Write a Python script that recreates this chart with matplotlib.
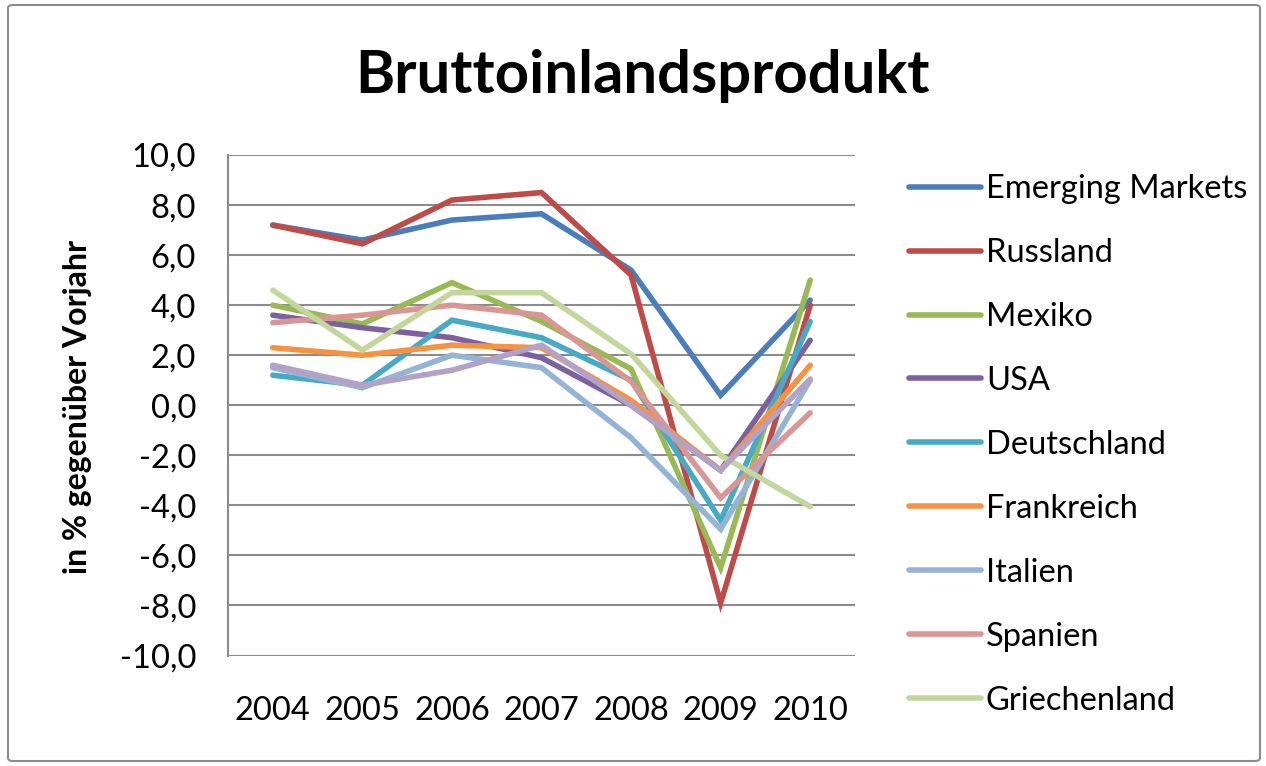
import matplotlib
matplotlib.use("Agg")
import matplotlib.pyplot as plt
from matplotlib.patches import FancyBboxPatch

years = ["2004", "2005", "2006", "2007", "2008", "2009", "2010"]

emerging_markets = [7.2, 6.6, 7.4, 7.65, 5.4, 0.4, 4.2]
russland = [7.2, 6.45, 8.2, 8.5, 5.2, -7.9, 4.0]
mexiko = [4.0, 3.25, 4.9, 3.35, 1.45, -6.5, 5.0]
usa = [3.6, 3.1, 2.7, 1.9, 0.0, -2.6, 2.6]
deutschland = [1.2, 0.8, 3.4, 2.7, 1.0, -4.6, 3.35]
frankreich = [2.3, 2.0, 2.4, 2.3, 0.2, -2.6, 1.6]
italien = [1.5, 0.7, 2.0, 1.5, -1.3, -4.95, 1.0]
spanien = [3.3, 3.6, 4.0, 3.6, 0.95, -3.7, -0.3]
griechenland = [4.6, 2.2, 4.5, 4.5, 2.05, -2.0, -4.05]
portugal = [1.6, 0.8, 1.4, 2.4, 0.0, -2.6, 1.05]

series_names = ["Emerging Markets", "Russland", "Mexiko", "USA", "Deutschland",
                "Frankreich", "Italien", "Spanien", "Griechenland", None]
series_values = [emerging_markets, russland, mexiko, usa, deutschland,
                 frankreich, italien, spanien, griechenland, portugal]
colors = ["#4A7EBB", "#BE4B48", "#98B954", "#7D60A0", "#46AAC5",
          "#F69240", "#95B3D7", "#D99694", "#C3D69B", "#B3A2C7"]

yticks = [10, 8, 6, 4, 2, 0, -2, -4, -6, -8, -10]

plt.rcParams['font.family'] = ['Lato', 'DejaVu Sans']

W, H = 1266, 766
fig = plt.figure(figsize=(W / 100, H / 100), dpi=100)
fig.patch.set_facecolor("white")

# outer chart border
border = FancyBboxPatch((8 / W, 5 / H), (W - 14) / W, (H - 10) / H,
                        boxstyle="round,pad=0,rounding_size=0.004",
                        transform=fig.transFigure, facecolor="none",
                        edgecolor="#8C8C8C", linewidth=1.5)
fig.patches.append(border)

ax = fig.add_axes([228 / W, 1 - 655.5 / H, 627 / W, 500.5 / H])

x = list(range(len(years)))
for name, vals, c in zip(series_names, series_values, colors):
    ax.plot(x, vals, color=c, linewidth=4.0, solid_joinstyle="miter",
            solid_capstyle="round",
            label=name if name else "_nolegend_", zorder=3)

ax.set_xlim(-0.5, len(years) - 0.5)
ax.set_ylim(-10, 10)
ax.set_yticks(yticks)
ax.set_yticklabels([f"{v:.1f}".replace(".", ",") for v in yticks])
ax.set_xticks(x)
ax.set_xticklabels(years)
ax.grid(axis="y", color="#8C8C8C", linewidth=1.5, zorder=1)
ax.tick_params(axis="both", length=0, labelsize=23.5, colors="#000000")
ax.tick_params(axis="y", pad=23)
ax.tick_params(axis="x", pad=29)
for s in ["top", "right", "bottom"]:
    ax.spines[s].set_visible(False)
ax.spines["left"].set_color("#8C8C8C")
ax.spines["left"].set_linewidth(1.5)
ax.set_axisbelow(True)

fig.text(643 / W, 1 - 76 / H, "Bruttoinlandsprodukt", ha="center", va="center",
         fontsize=43, fontweight="bold")
fig.text(78 / W, 1 - 407 / H, "in % gegenüber Vorjahr", ha="center", va="center",
         rotation=90, fontsize=23, fontweight="bold")

leg = fig.legend(loc="upper left", bbox_to_anchor=(896 / W, 1 - 161 / H),
                 frameon=False, fontsize=23.5, handlelength=2.2,
                 handletextpad=0.15, labelspacing=1.04, borderaxespad=0)

fig.savefig("out.png", dpi=100)
